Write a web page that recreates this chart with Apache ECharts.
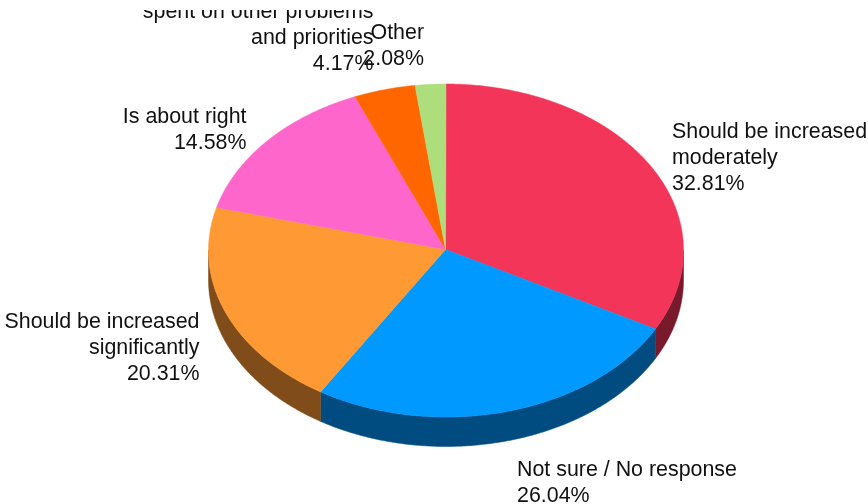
<!DOCTYPE html>
<html>
<head>
<meta charset="utf-8">
<style>html,body{margin:0;padding:0;background:#fff}#c{width:868px;height:504px;filter:blur(0.4px)}</style>
<script src="https://cdn.jsdelivr.net/npm/echarts@6/dist/echarts.min.js"></script>
</head>
<body>
<div id="c"></div>
<script>
var categories = [
  "Should be increased\nmoderately",
  "Not sure / No response",
  "Should be increased\nsignificantly",
  "Is about right",
  "spent on other problems\nand priorities",
  "Other"
];
var values = [32.81, 26.04, 20.31, 14.58, 4.17, 2.08];
var topColors = ["#f23558", "#0099ff", "#ff9933", "#ff66cc", "#ff6600", "#aedd7c"];
var sideColors = ["#791a2c", "#004c80", "#804d1a", "#803366", "#803300", "#576e3e"];
var labelX = [672, 517, 199.5, 246.5, 373.5, 424];
var labelY = [119.5, 457.5, 309.5, 104.5, -1, 20];
var labelAlign = ["left", "left", "right", "right", "right", "right"];

var CX = 446, CY = 250.5, RX = 237.5, RY = 166.5, DEPTH = 29.5, APEX_X = 445.5, APEX_Y = 249.5, TEXT_TOP = 10;
var total = values.reduce(function (a, b) { return a + b; }, 0);
function pt(a, dy) {
  return [CX + RX * Math.sin(a), CY - RY * Math.cos(a) + (dy || 0)];
}
function arc(a0, a1, dy) {
  var n = Math.max(2, Math.ceil(Math.abs(a1 - a0) / 0.01)), out = [];
  for (var i = 0; i <= n; i++) out.push(pt(a0 + (a1 - a0) * i / n, dy));
  return out;
}
function renderItem(params, api) {
  var i = params.dataIndex, before = 0;
  for (var k = 0; k < i; k++) before += values[k];
  var v = api.value(0);
  var a0 = before / total * 2 * Math.PI, a1 = (before + v) / total * 2 * Math.PI;
  var children = [];
  var s0 = Math.max(a0, Math.PI / 2), s1 = Math.min(a1, Math.PI * 1.5);
  if (s1 > s0) {
    var wall = arc(s0, s1, 0).concat(arc(s1, s0, DEPTH));
    children.push({ type: 'polygon', z2: 1, shape: { points: wall }, style: { fill: sideColors[i], stroke: sideColors[i], lineWidth: 0.5 } });
  }
  var top = [[APEX_X, APEX_Y]].concat(arc(a0, a1, 0));
  children.push({ type: 'polygon', z2: 2, shape: { points: top }, style: { fill: topColors[i], stroke: topColors[i], lineWidth: 0.5 } });
  children.push({
    type: 'text', z2: 3,
    x: labelX[i], y: labelY[i],
    style: {
      text: categories[i] + "\n" + v.toFixed(2) + "%",
      textAlign: labelAlign[i], textVerticalAlign: 'top',
      font: '21.4px "Liberation Sans", Arial, sans-serif',
      lineHeight: 26, fill: '#111111'
    }
  });
  return { type: 'group', children: children };
}
var chart = echarts.init(document.getElementById('c'), null, { renderer: 'canvas' });
chart.setOption({
  animation: false,
  backgroundColor: '#ffffff',
  graphic: [{
    type: 'rect', z: 100, left: 0, top: 0,
    shape: { width: 868, height: TEXT_TOP },
    style: { fill: '#ffffff' }
  }],
  series: [{
    type: 'custom',
    coordinateSystem: 'none',
    renderItem: renderItem,
    clip: false,
    data: values.map(function (v) { return [v]; })
  }]
});
</script>
</body>
</html>
